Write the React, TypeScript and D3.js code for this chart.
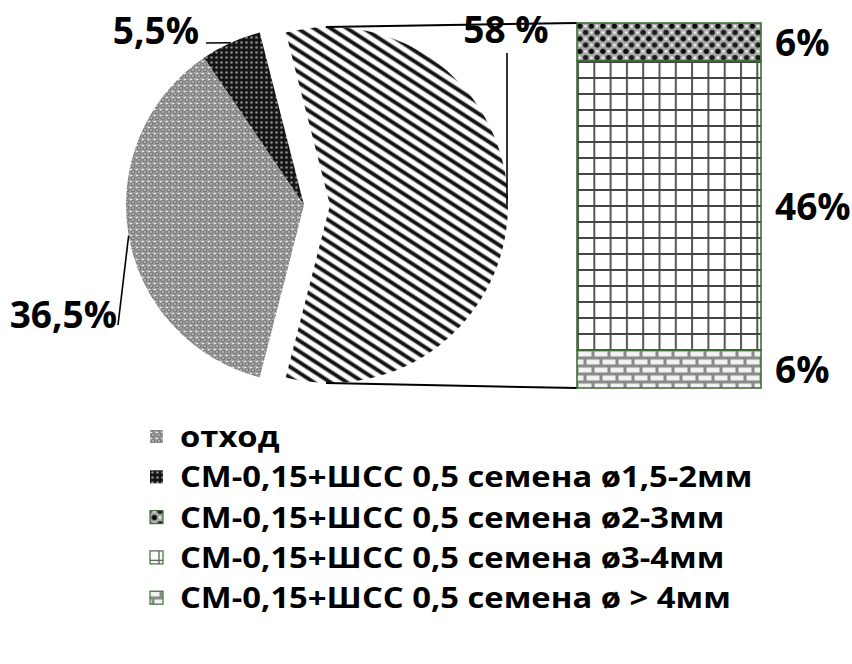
import React from "react";
import * as d3 from "d3";

// Fractions of the sieved material, in percent
const categories = [
  "отход",
  "СМ-0,15+ШСС 0,5 семена ø1,5-2мм",
  "СМ-0,15+ШСС 0,5 семена ø2-3мм",
  "СМ-0,15+ШСС 0,5 семена ø3-4мм",
  "СМ-0,15+ШСС 0,5 семена ø > 4мм",
];
const shares = [36.5, 5.5, 6, 46, 6];
// which fractions are moved out of the pie into the stacked bar
const inBar = [false, false, true, true, true];
const patternIds = ["pWaste", "pDark", "pChecker", "pGrid", "pBrick"];
const otherLabel = "58 %";

const W = 852;
const H = 664;
const FONT = "'Open Sans', 'DejaVu Sans', sans-serif";

const fmt = (v: number) => String(v).replace(".", ",") + "%";

export default function App() {
  const cy = 205;
  const r = 178;
  const cxPie = 304;
  const explode = 26;
  const cxOther = cxPie + explode;

  const pieIdx = shares.map((_, i) => i).filter((i) => !inBar[i]);
  const barIdx = shares.map((_, i) => i).filter((i) => inBar[i]);
  const otherTotal = d3.sum(barIdx.map((i) => shares[i]));

  type Slice = { key: string; value: number; idx: number };
  const sliceData: Slice[] = [
    { key: "other", value: otherTotal, idx: -1 },
    ...pieIdx.map((i) => ({ key: categories[i], value: shares[i], idx: i })),
  ];
  const start = Math.PI / 2 - (otherTotal / 100) * Math.PI;
  const arcs = d3
    .pie<Slice>()
    .sort(null)
    .value((d) => d.value)
    .startAngle(start)
    .endAngle(start + 2 * Math.PI)(sliceData);
  const arcGen = d3.arc<d3.PieArcDatum<Slice>>().innerRadius(0).outerRadius(r);

  const onArc = (cx: number, a: number) => [cx + r * Math.sin(a), cy - r * Math.cos(a)];

  // stacked bar
  const barX = 577;
  const barW = 184;
  const y = d3.scaleLinear().domain([0, otherTotal]).range([23, 388]);
  let acc = 0;
  const segs = barIdx.map((i) => {
    const s = { idx: i, y0: y(acc), y1: y(acc + shares[i]) };
    acc += shares[i];
    return s;
  });

  const otherArc = arcs[0];
  const topPt = [cxOther, cy - r];
  const botPt = [cxOther, cy + r];

  // pie label anchors: text x, baseline, leader start
  const labelPos: Record<number, { x: number; y: number; lx: number; ly: number }> = {
    0: { x: 117, y: 328, lx: 118, ly: 325 },
    1: { x: 199, y: 44, lx: 206, ly: 43 },
  };

  const green = "#3f6f37";
  const legendY0 = 437;
  const legendStep = 40.3;
  const legendX = 180;

  return (
    <svg
      width={W}
      height={H}
      style={{ position: "absolute", left: 0, top: 0, background: "#fff" }}
      fontFamily={FONT}
    >
      <defs>
        <pattern id="pWaste" width={6} height={6} patternUnits="userSpaceOnUse">
          <rect width={6} height={6} fill="#a2a2a2" />
          <circle cx={3} cy={3} r={2} fill="none" stroke="#6e6e6e" strokeWidth={1} />
          <rect x={0} y={0} width={2.2} height={1.2} fill="#ececec" />
          <rect x={2.5} y={2.5} width={1} height={1} fill="#d0d0d0" />
        </pattern>
        <pattern id="pDark" width={5} height={5} patternUnits="userSpaceOnUse">
          <rect width={5} height={5} fill="#151515" />
          <circle cx={2.5} cy={2.5} r={1.3} fill="#8a8a8a" />
        </pattern>
        <pattern
          id="pStripe"
          width={9}
          height={9}
          patternUnits="userSpaceOnUse"
          patternTransform="rotate(33)"
        >
          <rect width={9} height={9} fill="#fff" />
          <rect x={0} y={2.8} width={9} height={3.4} fill="#141414" />
          <rect x={0} y={2.0} width={9} height={0.8} fill="#8a8a8a" />
          <rect x={0} y={6.2} width={9} height={0.8} fill="#8a8a8a" />
        </pattern>
        <pattern id="pChecker" x={577} y={23} width={11.5} height={12.6} patternUnits="userSpaceOnUse">
          <rect width={11.5} height={12.6} fill="#a8a8a8" />
          <circle cx={2.9} cy={3.2} r={2.7} fill="#0c0c0c" />
          <circle cx={8.6} cy={9.5} r={2.7} fill="#1a1a1a" />
          <rect x={7.3} y={2} width={2.4} height={2.4} fill="#f4f4f4" />
          <rect x={1.8} y={8.3} width={2.4} height={2.4} fill="#f4f4f4" />
        </pattern>
        <pattern id="pGrid" x={577} y={61} width={16.3} height={16} patternUnits="userSpaceOnUse">
          <rect width={16.3} height={16} fill="#fff" />
          <rect x={0} y={0} width={2} height={16} fill="#555" />
          <rect x={0} y={0} width={16.3} height={2} fill="#444" />
        </pattern>
        <pattern id="pBrick" x={577} y={350} width={16} height={16} patternUnits="userSpaceOnUse">
          <rect width={16} height={16} fill="#8a8a8a" />
          <rect x={1.5} y={1.5} width={13} height={5} fill="#f2f2f2" />
          <rect x={9.5} y={9.5} width={13} height={5} fill="#f2f2f2" />
          <rect x={-6.5} y={9.5} width={13} height={5} fill="#f2f2f2" />
        </pattern>
      </defs>

      {/* pie: remaining fractions */}
      <g transform={`translate(${cxPie},${cy})`}>
        {arcs.slice(1).map((a) => (
          <path key={a.data.key} d={arcGen(a) || ""} fill={`url(#${patternIds[a.data.idx]})`} />
        ))}
      </g>
      {/* pie: combined slice, pulled out towards the bar */}
      <g transform={`translate(${cxOther},${cy})`}>
        <path d={arcGen(otherArc) || ""} fill="url(#pStripe)" />
      </g>

      {/* connector lines */}
      <line x1={topPt[0] - 4} y1={topPt[1]} x2={barX} y2={y(0)} stroke="#000" strokeWidth={2} />
      <line x1={botPt[0] - 4} y1={botPt[1]} x2={barX} y2={y(otherTotal)} stroke="#000" strokeWidth={2} />

      {/* stacked bar */}
      {segs.map((s) => (
        <rect
          key={s.idx}
          x={barX}
          y={s.y0}
          width={barW}
          height={s.y1 - s.y0}
          fill={`url(#${patternIds[s.idx]})`}
          stroke={green}
          strokeWidth={1.6}
        />
      ))}

      {/* bar labels */}
      {segs.map((s) => (
        <text
          key={"l" + s.idx}
          x={775}
          y={(s.y0 + s.y1) / 2 + 14}
          fontSize={37}
          fontWeight={700}
          fill="#000"
        >
          {fmt(shares[s.idx])}
        </text>
      ))}

      {/* pie labels with leaders to slice mid-arc */}
      {arcs.slice(1).map((a) => {
        const p = labelPos[a.data.idx];
        const [ex, ey] = onArc(cxPie, (a.startAngle + a.endAngle) / 2);
        return (
          <g key={"pl" + a.data.idx}>
            <line x1={p.lx} y1={p.ly} x2={ex} y2={ey} stroke="#000" strokeWidth={1.6} />
            <text x={p.x} y={p.y} textAnchor="end" fontSize={37} fontWeight={700}>
              {fmt(a.data.value)}
            </text>
          </g>
        );
      })}
      {(() => {
        const [ex, ey] = onArc(cxOther, (otherArc.startAngle + otherArc.endAngle) / 2);
        return (
          <g>
            <line x1={ex - 1} y1={53} x2={ex - 1} y2={ey} stroke="#000" strokeWidth={1.6} />
            <text x={506} y={43} textAnchor="middle" fontSize={37} fontWeight={700}>
              {otherLabel}
            </text>
          </g>
        );
      })()}

      {/* legend */}
      {categories.map((c, i) => {
        const ly = legendY0 + i * legendStep;
        const bx = 150;
        const by = ly - 7;
        return (
          <g key={"lg" + i}>
            {i === 3 ? (
              <g>
                <rect x={bx} y={by} width={13} height={13} fill="#fff" />
                <line x1={bx + 9} y1={by} x2={bx + 9} y2={by + 13} stroke="#666" strokeWidth={1.4} />
                <line x1={bx} y1={by + 9.5} x2={bx + 13} y2={by + 9.5} stroke="#666" strokeWidth={1.4} />
                <rect x={bx} y={by} width={13} height={13} fill="none" stroke={green} strokeWidth={1.2} />
              </g>
            ) : (
              <rect
                x={bx}
                y={by}
                width={13}
                height={13}
                fill={`url(#${patternIds[i]})`}
                stroke={inBar[i] ? green : "none"}
                strokeWidth={1.2}
              />
            )}
            <text
              x={legendX}
              y={ly + 10}
              fontSize={29}
              fontWeight={700}
              fill="#000"
              transform={`translate(${legendX},0) scale(1.13,1) translate(${-legendX},0)`}
            >
              {c}
            </text>
          </g>
        );
      })}
    </svg>
  );
}
